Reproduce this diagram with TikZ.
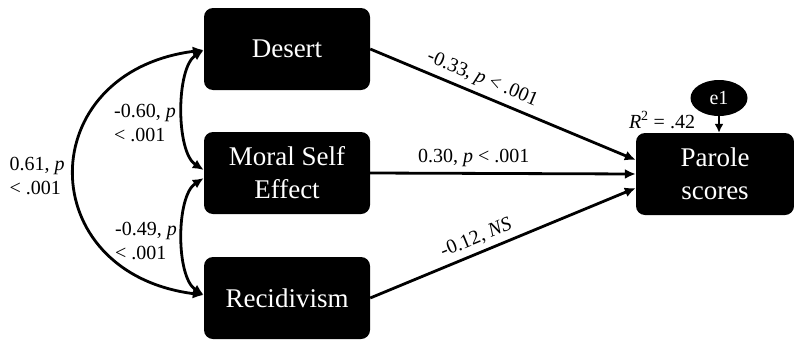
\documentclass[tikz,border=0pt]{standalone}
\usepackage{fontspec}
\setmainfont{Liberation Serif}
\usetikzlibrary{arrows.meta,shapes.geometric}

\tikzset{
  varbox/.style={fill=black, rounded corners=9pt, text=white, align=center,
    minimum width=166pt, minimum height=82pt, inner sep=2pt,
    font=\fontsize{27}{33}\selectfont},
  path/.style={line width=2.8pt, -{Latex[length=11pt,width=10pt]}},
  twoway/.style={line width=2.8pt, {Latex[length=11pt,width=10pt]}-{Latex[length=11pt,width=10pt]}},
  coef/.style={font=\fontsize{20}{24}\selectfont, align=left, inner sep=2pt}
}

\begin{document}
\begin{tikzpicture}[x=1pt, y=-1pt] % 1pt = 1px, y hacia abajo
    \useasboundingbox (0,0) rectangle (794,343);

    % Variables observadas
    \node[varbox] (desert) at (287,49) {Desert};
    \node[varbox] (moral) at (287,173) {Moral Self\\Effect};
    \node[varbox] (recid) at (287,298) {Recidivism};
    \node[varbox, minimum width=158pt] (parole) at (715,174) {Parole\\scores};

    % Error
    \node[ellipse, fill=black, text=white, minimum width=57pt, minimum height=36pt,
      inner sep=0pt, font=\fontsize{20}{24}\selectfont] (e1) at (719,98) {e1};
    \draw[line width=2pt, -{Latex[length=9pt,width=9pt]}] (e1.south) -- (e1.south |- parole.north);
    \node[coef] (rsq) at (662,120) {\textit{R}\textsuperscript{2} = .42};

    % Covarianzas
    \draw[twoway] ([yshift=-1pt]desert.west) .. controls +(-28,18) and +(-28,-18) .. ([yshift=3pt]moral.west);
    \draw[twoway] ([yshift=-5pt]moral.west) .. controls +(-28,18) and +(-28,-18) .. ([yshift=3pt]recid.west);
    \draw[twoway] ([yshift=-1pt]desert.west) .. controls +(-172,22) and +(-172,-22) .. ([yshift=3pt]recid.west);
    \node[coef] (c1) at (145,123) {-0.60, \textit{p}\\< .001};
    \node[coef] (c2) at (146,241) {-0.49, \textit{p}\\< .001};
    \node[coef] (c3) at (37,176) {0.61, \textit{p}\\< .001};

    % Efectos directos
    \draw[path] (desert.east) -- (parole.170)
      node[coef, pos=0.40, sloped, above=3pt] {-0.33, \textit{p} < .001};
    \draw[path] (moral.east) -- (parole.west)
      node[coef, pos=0.39, above=3pt] {0.30, \textit{p} < .001};
    \draw[path] (recid.east) -- (parole.190)
      node[coef, pos=0.42, sloped, above=3pt] {-0.12, \textit{NS}};
\end{tikzpicture}
\end{document}
